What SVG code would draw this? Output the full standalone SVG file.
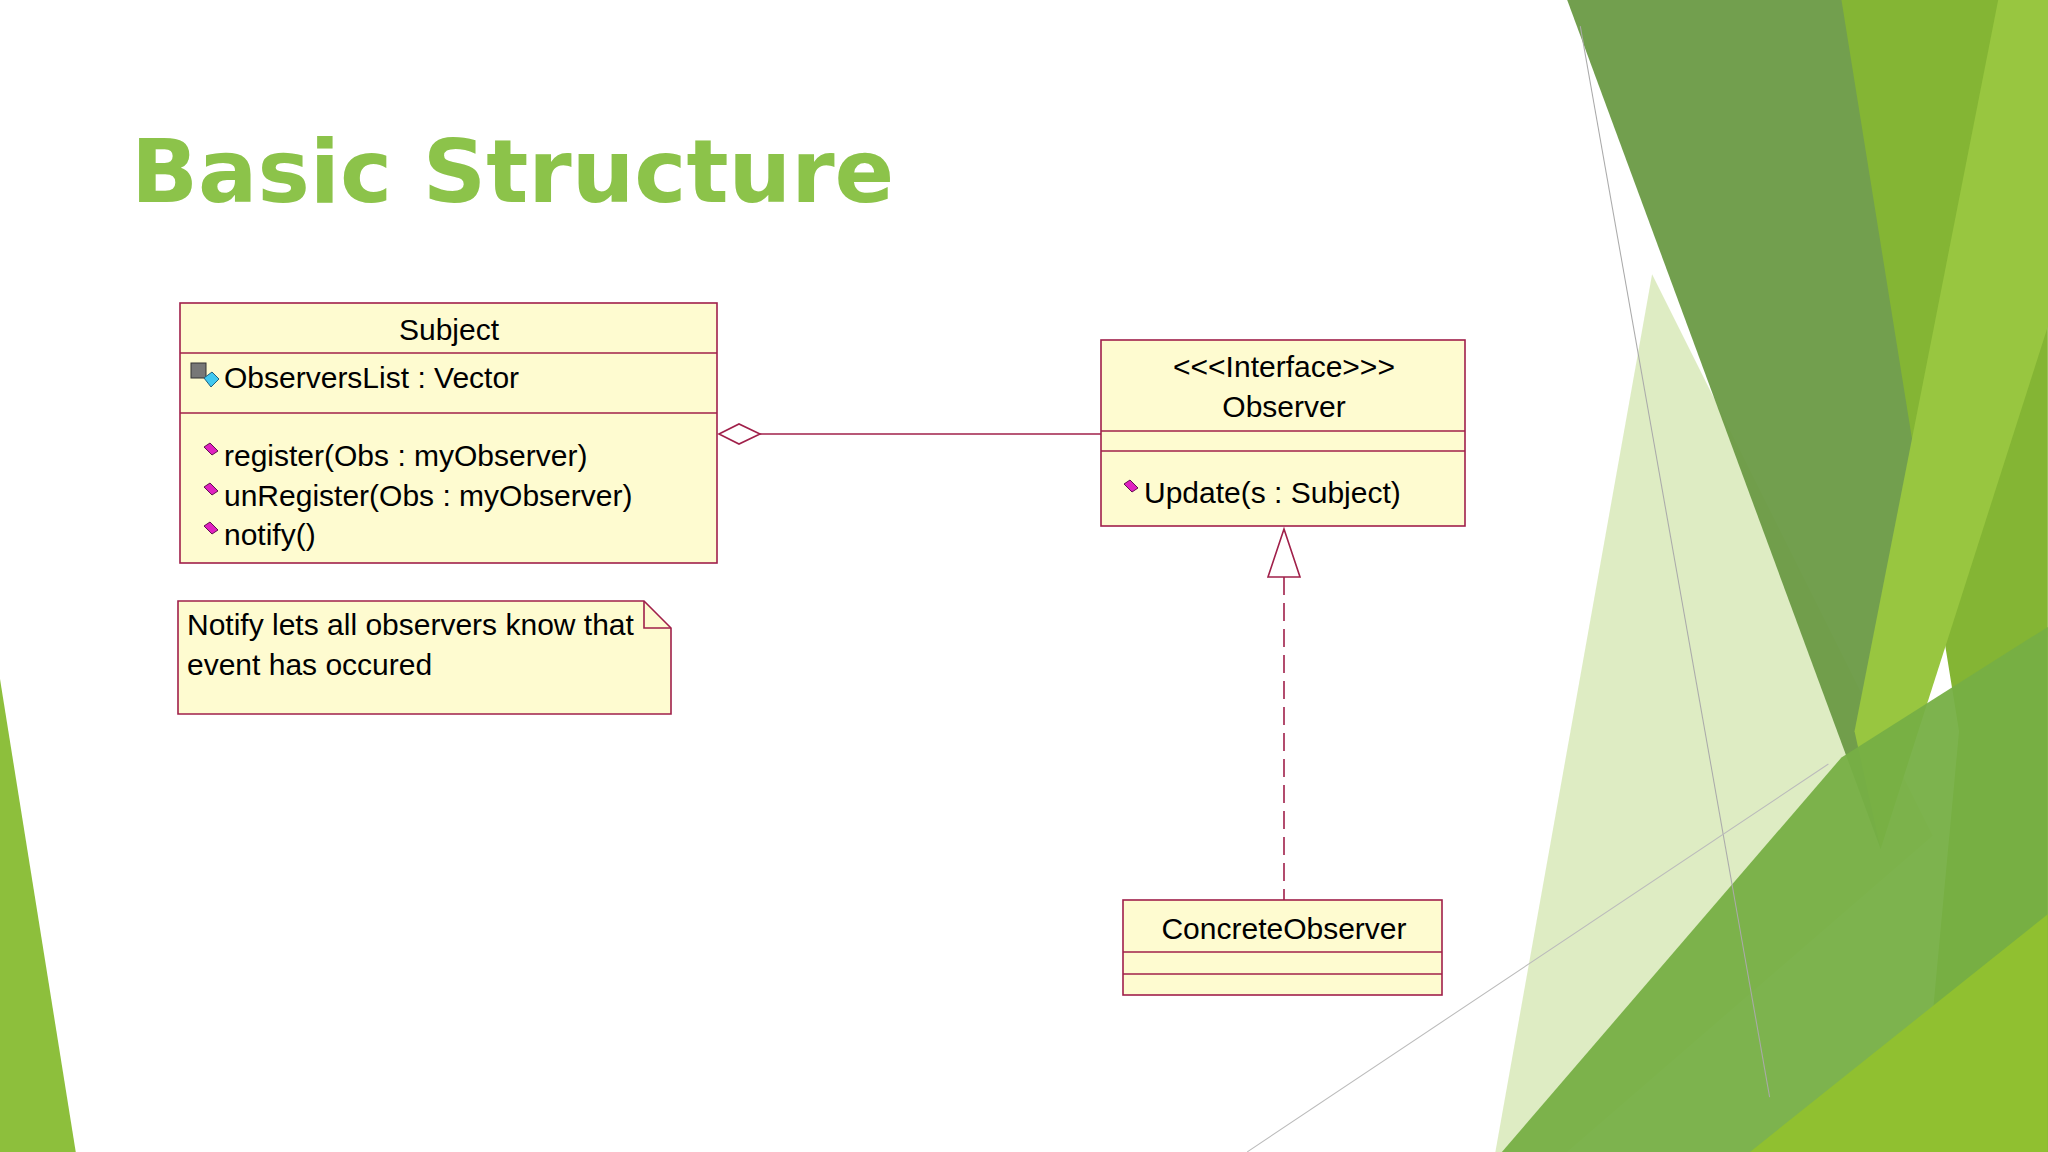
<svg xmlns="http://www.w3.org/2000/svg" width="2048" height="1152" viewBox="0 0 2048 1152">
<style>
.box{fill:#fefbd0;stroke:#a0204a;stroke-width:1.6}
.ln{stroke:#a0204a;stroke-width:1.6;fill:none}
.t{font-family:"Liberation Sans",Arial,sans-serif;font-size:30px;fill:#000}
.c{text-anchor:middle}
.ic{fill:#e020c0;stroke:#601050;stroke-width:1}
</style>
<defs>
<path id="op" d="M0,0 l6,-4 l8,8 l-6,4 z"/>
</defs>
<rect width="2048" height="1152" fill="#fff"/>
<g id="background" transform="scale(1.306)">
<polygon points="0,520 58,882 0,882" fill="#8dbf3c"/>
<polygon points="1265,210 1480,640 1200,882 1145,882" fill="#d8e9b8" opacity="0.85"/>
<polygon points="1200,0 1530,0 1440,650" fill="#6a9a45" opacity="0.95"/>
<polygon points="1410,0 1568,0 1568,882 1470,882 1500,560" fill="#84b534"/>
<polygon points="1530,0 1568,0 1568,250 1440,650 1420,560" fill="#98c640"/>
<polygon points="1150,882 1410,580 1568,480 1568,882" fill="#76af45" opacity="0.95"/>
<polygon points="1340,882 1568,700 1568,882" fill="#90c030"/>
<line x1="1210" y1="20" x2="1355" y2="840" stroke="#aaa" stroke-width="0.8"/>
<line x1="955" y1="882" x2="1400" y2="585" stroke="#bbb" stroke-width="0.8"/>
</g>
<text x="131" y="202" font-family="DejaVu Sans,Verdana,sans-serif" font-weight="bold" font-size="88" fill="#8cc34a">Basic Structure</text>
<g id="connectors">
<polygon class="ln" points="719,434 739,424 760,434 739,444" fill="#fff"/>
<line class="ln" x1="760" y1="434" x2="1101" y2="434"/>
<line class="ln" x1="1284" y1="577" x2="1284" y2="900" stroke-dasharray="18,8"/>
<polygon class="ln" points="1284,529 1268,577 1300,577" fill="#fff"/>
</g>
<g id="subject">
<rect class="box" x="180" y="303" width="537" height="260"/>
<line class="ln" x1="180" y1="353" x2="717" y2="353"/>
<line class="ln" x1="180" y1="413" x2="717" y2="413"/>
<text class="t c" x="449" y="340">Subject</text>
<rect x="191" y="363" width="15" height="15" fill="#777" stroke="#333"/>
<path d="M204,378 l8,-6 l7,7 l-8,8 z" fill="#40c8f0" stroke="#206080"/>
<text class="t" x="224" y="388">ObserversList : Vector</text>
<use href="#op" x="204" y="447" class="ic"/>
<use href="#op" x="204" y="487" class="ic"/>
<use href="#op" x="204" y="526" class="ic"/>
<text class="t" x="224" y="466">register(Obs : myObserver)</text>
<text class="t" x="224" y="506">unRegister(Obs : myObserver)</text>
<text class="t" x="224" y="545">notify()</text>
</g>
<g id="note">
<path class="box" d="M178,601 H644 L671,628 V714 H178 Z"/>
<path class="ln" d="M644,601 V628 H671"/>
<text class="t" x="187" y="635">Notify lets all observers know that</text>
<text class="t" x="187" y="675">event has occured</text>
</g>
<g id="observer">
<rect class="box" x="1101" y="340" width="364" height="186"/>
<line class="ln" x1="1101" y1="431" x2="1465" y2="431"/>
<line class="ln" x1="1101" y1="451" x2="1465" y2="451"/>
<text class="t c" x="1284" y="377">&lt;&lt;&lt;Interface&gt;&gt;&gt;</text>
<text class="t c" x="1284" y="417">Observer</text>
<use href="#op" x="1124" y="484" class="ic"/>
<text class="t" x="1144" y="503">Update(s : Subject)</text>
</g>
<g id="concreteobserver">
<rect class="box" x="1123" y="900" width="319" height="95"/>
<line class="ln" x1="1123" y1="952" x2="1442" y2="952"/>
<line class="ln" x1="1123" y1="974" x2="1442" y2="974"/>
<text class="t c" x="1284" y="939">ConcreteObserver</text>
</g>
</svg>
